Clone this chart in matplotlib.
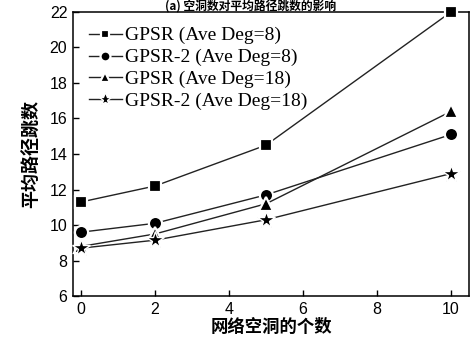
import matplotlib
matplotlib.use("Agg")
import matplotlib.pyplot as plt

holes = [0, 2, 5, 10]
gpsr_8 = [11.3, 12.2, 14.5, 22.0]
gpsr2_8 = [9.6, 10.1, 11.7, 15.1]
gpsr_18 = [8.8, 9.5, 11.2, 16.4]
gpsr2_18 = [8.7, 9.15, 10.3, 12.9]
labels = ["GPSR (Ave Deg=8)", "GPSR-2 (Ave Deg=8)", "GPSR (Ave Deg=18)", "GPSR-2 (Ave Deg=18)"]
markers = ["s", "o", "^", "*"]
xticks = [0, 2, 4, 6, 8, 10]
yticks = [6, 8, 10, 12, 14, 16, 18, 20, 22]
title = "(a) 空洞数对平均路径跳数的影响"
xlabel = "网络空洞的个数"
ylabel = "平均路径跳数"

fig = plt.figure(figsize=(4.73, 3.40), dpi=100)
ax = fig.add_axes([0.154, 0.129, 0.838, 0.836])

sizes = [8.5, 9.5, 9.5, 13]
mews = [1.6, 1.6, 1.6, 1.0]
for ys, m, lab, s, w in zip([gpsr_8, gpsr2_8, gpsr_18, gpsr2_18], markers, labels, sizes, mews):
    ax.plot(holes, ys, color="#222222", lw=1.0, marker=m, ms=s,
            mfc="black", mec="white", mew=w, label=lab, clip_on=False, zorder=3)

ax.set_xlim(-0.22, 10.49)
ax.set_ylim(6, 22)
ax.set_xticks(xticks)
ax.set_yticks(yticks)
ax.tick_params(direction="in", length=4, width=1, labelsize=11.5, pad=4,
               top=False, right=False)
for lab in ax.get_xticklabels() + ax.get_yticklabels():
    lab.set_fontfamily("Liberation Sans")
for sp in ax.spines.values():
    sp.set_linewidth(1.1)

leg = ax.legend(loc="upper left", frameon=False, prop={"family": "Liberation Serif", "size": 14},
                handlelength=1.7, handletextpad=0.2, labelspacing=0.22, markerscale=0.75,
                borderaxespad=0.0, bbox_to_anchor=(0.02, 0.975))

ax.set_xlabel(xlabel, family=["Noto Sans CJK SC", "DejaVu Sans"], fontsize=12.5,
              fontweight="bold", labelpad=1)
ax.set_ylabel(ylabel, family=["Noto Sans CJK SC", "DejaVu Sans"], fontsize=13,
              fontweight="bold", labelpad=6)
fig.text(0.53, 0.999, title, ha="center", va="top",
         family=["Noto Sans CJK SC", "DejaVu Sans"], fontsize=8.5, fontweight="bold")

fig.savefig("out.png", dpi=100)
